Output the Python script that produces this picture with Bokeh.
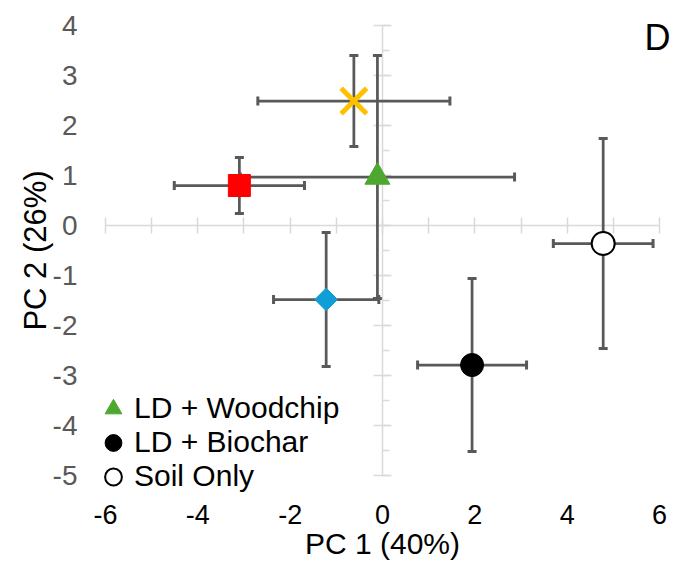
import numpy as np
from bokeh.plotting import figure
from bokeh.models import (LinearAxis, SingleIntervalTicker, ColumnDataSource, Whisker,
                          TeeHead, Legend, LegendItem, Label, Range1d, CustomJSTickFormatter)
from bokeh.embed import file_html
from bokeh.resources import INLINE

# ---- data ----
series = ["LD + Woodchip", "LD + Biochar", "Soil Only", "Treatment R", "Treatment Y", "Treatment B"]
pc1 = [-0.11, 1.94, 4.78, -3.10, -0.62, -1.22]
pc2 = [0.97, -2.79, -0.36, 0.80, 2.49, -1.48]
pc1_err = [2.97, 1.18, 1.08, 1.41, 2.08, 1.14]
pc2_err = [2.43, 1.73, 2.10, 0.56, 0.91, 1.34]
in_legend = [True, True, True, False, False, False]

x_label = "PC 1 (40%)"
y_label = "PC 2 (26%)"
panel_tag = "D"

# ---- styles ----
markers = ["triangle", "circle", "circle", "square", "x", "square"]
fills = ["#4EA72E", "#000000", "#FFFFFF", "#FF0000", "#FFC000", "#0F9ED5"]
lines = ["#4EA72E", "#000000", "#000000", "#FF0000", "#FFC000", "#0F9ED5"]
sizes = [25, 23, 23, 22, 36, 16]
lwidths = [1, 1, 2, 1, 5, 1]
angles = [0, 0, 0, 0, 0, np.pi / 4]

FONT = "Liberation Sans"
ERR = "#595959"
AX = "#D9D9D9"

W, H = 673, 573
p = figure(width=W, height=H, output_backend="svg", toolbar_location=None, title=None,
           x_range=Range1d(-8.2738, 6.3028), y_range=Range1d(-6.96, 4.5),
           x_axis_type=None, y_axis_type=None, min_border=0)
p.outline_line_color = None
p.background_fill_color = "white"

num_fmt = "return tick.toFixed(0)"

# ---- zero axes with crossing ticks ----
xz = LinearAxis(fixed_location=0, ticker=SingleIntervalTicker(interval=1, num_minor_ticks=0),
                bounds=(-6, 6), formatter=CustomJSTickFormatter(code="return ''"),
                axis_line_color=AX, axis_line_width=1.5,
                major_tick_line_color=AX, major_tick_line_width=1.5, major_tick_in=8, major_tick_out=8,
                minor_tick_line_color=None, level="image")
p.add_layout(xz, "below")
yz = LinearAxis(fixed_location=0, ticker=SingleIntervalTicker(interval=1, num_minor_ticks=2),
                bounds=(-5, 4), formatter=CustomJSTickFormatter(code="return ''"),
                axis_line_color=AX, axis_line_width=1.5,
                major_tick_line_color=AX, major_tick_line_width=1.5, major_tick_in=9, major_tick_out=9,
                minor_tick_line_color=AX, minor_tick_line_width=1.5, minor_tick_in=7, minor_tick_out=0,
                level="image")
p.add_layout(yz, "left")

# ---- label axes ----
xl = LinearAxis(fixed_location=-5, ticker=SingleIntervalTicker(interval=2, num_minor_ticks=0),
                bounds=(-6, 6), formatter=CustomJSTickFormatter(code=num_fmt),
                axis_line_color=None, major_tick_line_color=None,
                minor_tick_line_color=None, major_tick_in=0, major_tick_out=0,
                major_label_standoff=29, major_label_text_font=FONT,
                major_label_text_font_size="27px", major_label_text_color="#000000",
                axis_label=x_label, axis_label_text_font=FONT, axis_label_text_font_size="30px",
                axis_label_text_font_style="normal", axis_label_text_color="#000000",
                axis_label_standoff=0)
p.add_layout(xl, "below")
yl = LinearAxis(fixed_location=-6, ticker=SingleIntervalTicker(interval=1, num_minor_ticks=0),
                bounds=(-5, 4), formatter=CustomJSTickFormatter(code=num_fmt),
                axis_line_color=None, major_tick_line_color=None,
                minor_tick_line_color=None, major_tick_in=0, major_tick_out=0,
                major_label_standoff=28, major_label_text_font=FONT,
                major_label_text_font_size="28px", major_label_text_color="#595959",
                axis_label=y_label, axis_label_text_font=FONT, axis_label_text_font_size="31px",
                axis_label_text_font_style="normal", axis_label_text_color="#000000",
                axis_label_standoff=-3)
p.add_layout(yl, "left")

# ---- error bars ----
x = np.array(pc1); y = np.array(pc2)
ex = np.array(pc1_err); ey = np.array(pc2_err)
src = ColumnDataSource(dict(x=x, y=y, xlo=x - ex, xhi=x + ex, ylo=y - ey, yhi=y + ey))

def head():
    return TeeHead(size=9, line_color=ERR, line_width=3)

p.add_layout(Whisker(source=src, base="x", lower="ylo", upper="yhi", dimension="height",
                     line_color=ERR, line_width=2.75, upper_head=head(), lower_head=head()))
p.add_layout(Whisker(source=src, base="y", lower="xlo", upper="xhi", dimension="width",
                     line_color=ERR, line_width=2.75, upper_head=head(), lower_head=head()))

# ---- markers ----
order = [3, 4, 5, 0, 1, 2]
rend = {}
for i in order:
    s = ColumnDataSource(dict(x=[pc1[i]], y=[pc2[i]]))
    r = p.scatter("x", "y", source=s, marker=markers[i], size=sizes[i], fill_color=fills[i],
                  line_color=lines[i], line_width=lwidths[i], angle=angles[i])
    rend[i] = r

# ---- legend: one small legend per row (rows 34 px apart) ----
row_offsets = [142.5, 108.5, 74.5]
k = 0
for i in range(len(series)):
    if in_legend[i]:
        lg = Legend(items=[LegendItem(label=series[i], renderers=[rend[i]])],
                    location=(92, row_offsets[k]), glyph_width=42, glyph_height=45,
                    label_height=45, label_standoff=0, spacing=0, padding=0, margin=0,
                    border_line_color=None, background_fill_alpha=0,
                    label_text_font=FONT, label_text_font_size="30px",
                    label_text_color="#000000")
        p.add_layout(lg)
        k += 1

p.add_layout(Label(x=5.956, y=3.76, text=panel_tag, text_font=FONT, text_font_size="36px",
                   text_align="center", text_baseline="middle", text_color="#000000"))

open("out.html", "w").write(file_html(p, INLINE))
